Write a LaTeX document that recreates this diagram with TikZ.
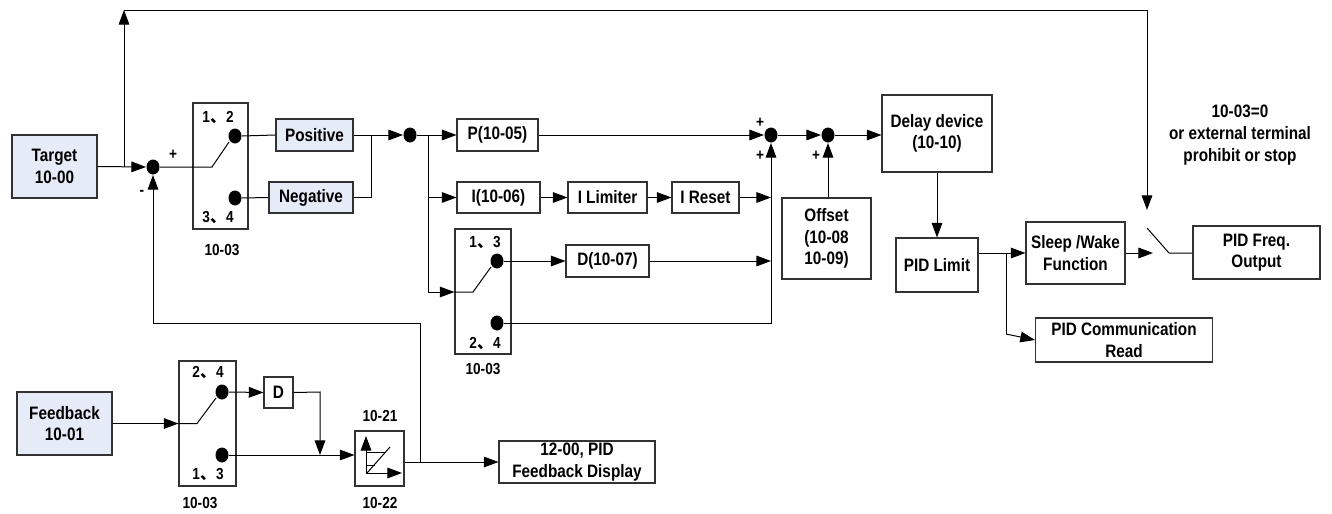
\documentclass[tikz,border=0pt]{standalone}
\usepackage{fontspec}
\setmainfont{Liberation Sans}[FakeStretch=0.85]
\newfontfamily\cjk{Noto Sans CJK SC}
\usetikzlibrary{arrows.meta,shapes.geometric}
\definecolor{bluefill}{RGB}{230,236,247}
\definecolor{edgegray}{RGB}{50,50,50}
\newcommand{\dun}{{\cjk 、}}
\begin{document}
\begin{tikzpicture}[x=0.75pt,y=-0.75pt,line width=0.75pt,
  font=\fontsize{13.5}{16}\selectfont\bfseries,
  box/.style={draw=edgegray,line width=0.8pt,inner sep=1pt,align=center},
  bfill/.style={fill=bluefill},
  sz/.style 2 args={minimum width=#1*0.75pt,minimum height=#2*0.75pt},
  dotn/.style={ellipse,fill=black,inner sep=0pt,minimum width=9.75pt,minimum height=11.25pt},
  arr/.style={-{Triangle[length=11pt,width=8pt]}},
  lab/.style={font=\fontsize{12}{14}\selectfont\bfseries,inner sep=0pt}]
\fill[white] (0,0) rectangle (1332,514);
\useasboundingbox (0,0) rectangle (1332,514);

% boxes
\node[box,bfill,sz={85}{63}] (target) at (54.5,166.5) {Target\\10-00};
\node[box,sz={55}{126}] (sw1) at (220.5,166) {};
\node[box,bfill,sz={77}{32}] (pos) at (314.5,135) {Positive};
\node[box,bfill,sz={84}{31}] (neg) at (311,197.5) {Negative};
\node[box,sz={81}{32}] (P) at (497.5,135) {P(10-05)};
\node[box,sz={83}{31}] (I) at (498.5,197.5) {I(10-06)};
\node[box,sz={79}{31}] (ilim) at (607.5,197.5) {I Limiter};
\node[box,sz={67}{31}] (ires) at (705.5,197.5) {I Reset};
\node[box,sz={56}{125}] (swD) at (483,291.5) {};
\node[box,sz={83}{32}] (D7) at (607.5,261) {D(10-07)};
\node[box,sz={89}{81},align=left] (offset) at (826.5,238.5) {Offset\\(10-08\\10-09)};
\node[box,sz={110}{77}] (delay) at (937,133.5) {Delay device\\(10-10)};
\node[box,sz={82}{54}] (plim) at (937,265) {PID Limit};
\node[box,sz={99}{62}] (sleep) at (1075.5,253) {Sleep /Wake\\Function};
\node[box,sz={127}{53}] (freq) at (1256.5,252.5) {PID Freq.\\Output};
\node[box,sz={177}{44}] (comm) at (1124,340) {PID Communication\\Read};
\node[box,bfill,sz={95}{63}] (fb) at (64.5,423.5) {Feedback\\10-01};
\node[box,sz={57}{125}] (swF) at (207.5,423.5) {};
\node[box,sz={29}{31}] (Ds) at (278.5,392.5) {D};
\node[box,sz={49}{55}] (filt) at (379.5,458.5) {};
\node[box,sz={156}{42}] (disp) at (577,462) {12-00, PID\\Feedback Display};

% dots
\node[dotn] (s1) at (153,167) {};
\node[dotn] (a1) at (235,136) {};
\node[dotn] (b1) at (235,198) {};
\node[dotn] (j) at (410,135) {};
\node[dotn] (s2) at (771,135) {};
\node[dotn] (s3) at (828,135) {};
\node[dotn] (aD) at (497,261) {};
\node[dotn] (bD) at (497,323) {};
\node[dotn] (aF) at (222,392) {};
\node[dotn] (bF) at (222,455) {};

% helper coordinates
\coordinate (t1) at (124,167);
\coordinate (top1) at (124,10);
\coordinate (top2) at (1147,10);
\coordinate (swtip) at (1147,210);
\coordinate (swa) at (1147,228);
\coordinate (swb) at (1169,253);
\coordinate (swin) at (1153,253);
\coordinate (k1) at (212,167);
\coordinate (k1b) at (229,142);
\coordinate (m1) at (371,135);
\coordinate (br) at (428,135);
\coordinate (brD) at (428,292);
\coordinate (kD) at (473,292);
\coordinate (kDb) at (491,267);
\coordinate (pl) at (1006,253);
\coordinate (plb) at (1006,334);
\coordinate (kF) at (197,423.5);
\coordinate (kFb) at (216,398);
\coordinate (dr) at (320,392);
\coordinate (fo) at (420,462);
\coordinate (fbl) at (420,323);
\coordinate (fbl2) at (153,323);

% connectors
\draw[arr] (target.east) -- (s1.west);
\draw[arr] (t1) -- (top1);
\draw[arr] (top1) -- (top2) -- (swtip);
\draw (s1.east) -- (k1) -- (k1b);
\draw (a1.east) -- (pos.west);
\draw (b1.east) -- (neg.west);
\draw (pos.east) -- (m1) -- (m1 |- neg.east) -- (neg.east);
\draw[arr] (m1) -- (j.west);
\draw (j.east) -- (br);
\draw[arr] (br) -- (P.west);
\draw[arr] (br |- I.west) -- (I.west);
\draw (br) -- (brD);
\draw[arr] (brD) -- (brD -| swD.west);
\draw (brD -| swD.west) -- (kD) -- (kDb);
\draw[arr] (I.east) -- (ilim.west);
\draw[arr] (ilim.east) -- (ires.west);
\draw[arr] (ires.east) -- (ires.east -| s2);
\draw[arr] (aD.east) -- (D7.west);
\draw[arr] (D7.east) -- (D7.east -| s2);
\draw[arr] (bD.east) -- (bD -| s2) -- (s2.south);
\draw[arr] (P.east) -- (s2.west);
\draw[arr] (s2.east) -- (s3.west);
\draw[arr] (offset.north -| s3) -- (s3.south);
\draw[arr] (s3.east) -- (delay.west |- s3);
\draw[arr] (delay.south) -- (plim.north);
\draw (plim.east |- pl) -- (pl);
\draw[arr] (pl) -- (sleep.west);
\draw (pl) -- (plb);
\draw[arr] (plb) -- (comm.west);
\draw[arr] (sleep.east) -- (swin);
\draw (swa) -- (swb) -- (freq.west |- swb);
\draw[arr] (fb.east) -- (swF.west);
\draw (swF.west) -- (kF) -- (kFb);
\draw[arr] (aF.east) -- (Ds.west);
\draw[arr] (Ds.east) -- (dr) -- (dr |- bF);
\draw[arr] (bF.east) -- (filt.west |- bF);
\draw[arr] (filt.east |- disp.west) -- (disp.west);
\draw[arr] (fo) -- (fbl) -- (fbl2) -- (s1.south);

% filter symbol
\draw[arr] (366,473) -- (366,436);
\draw[arr] (366,473) -- (402,473);
\draw (366,452) -- (385,452);
\draw (366,465) -- (375,465);
\draw (367,473) -- (390,447);

% labels
\node[lab] at (173,155) {+};
\node[lab] at (142,193) {-};
\node[lab] at (218,118) {1\dun 2};
\node[lab] at (218,218) {3\dun 4};
\node[lab] at (222,250) {10-03};
\node[lab] at (485,243) {1\dun 3};
\node[lab] at (485,344) {2\dun 4};
\node[lab] at (483,369) {10-03};
\node[lab] at (760,123) {+};
\node[lab] at (760,156) {+};
\node[lab] at (816,156) {+};
\node[lab] at (208,373) {2\dun 4};
\node[lab] at (208,475) {1\dun 3};
\node[lab] at (200,503) {10-03};
\node[lab] at (380,416) {10-21};
\node[lab] at (380,503) {10-22};
\node[align=center,font=\fontsize{13.5}{16.5}\selectfont\bfseries] (cond) at (1240,135) {10-03=0\\or external terminal\\prohibit or stop};
\end{tikzpicture}
\end{document}
